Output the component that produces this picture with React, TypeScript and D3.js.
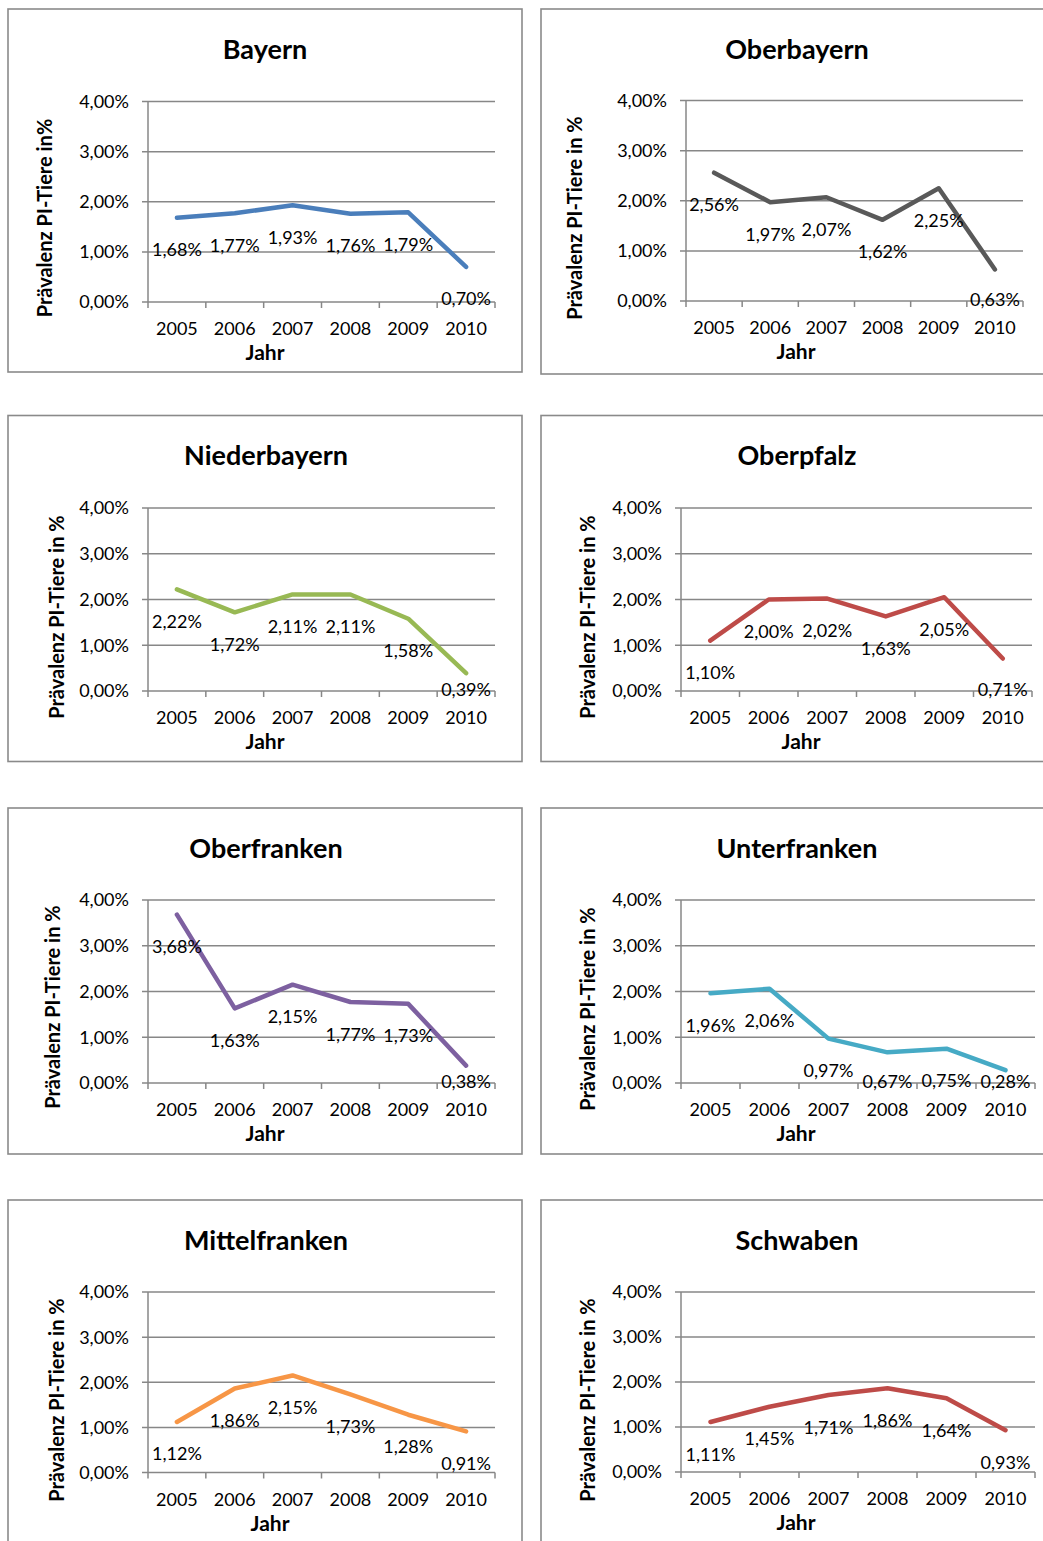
import React from "react";
import * as d3 from "d3";

// Survey years (x categories)
const years = ["2005", "2006", "2007", "2008", "2009", "2010"];
// Y axis ticks in percent
const yTicks = [0, 1, 2, 3, 4];

// Prevalence of PI animals per region, percent
const bayern = [1.68, 1.77, 1.93, 1.76, 1.79, 0.7];
const oberbayern = [2.56, 1.97, 2.07, 1.62, 2.25, 0.63];
const niederbayern = [2.22, 1.72, 2.11, 2.11, 1.58, 0.39];
const oberpfalz = [1.1, 2.0, 2.02, 1.63, 2.05, 0.71];
const oberfranken = [3.68, 1.63, 2.15, 1.77, 1.73, 0.38];
const unterfranken = [1.96, 2.06, 0.97, 0.67, 0.75, 0.28];
const mittelfranken = [1.12, 1.86, 2.15, 1.73, 1.28, 0.91];
const schwaben = [1.11, 1.45, 1.71, 1.86, 1.64, 0.93];

const titles = [
  "Bayern", "Oberbayern", "Niederbayern", "Oberpfalz",
  "Oberfranken", "Unterfranken", "Mittelfranken", "Schwaben",
];
const seriesList = [
  bayern, oberbayern, niederbayern, oberpfalz,
  oberfranken, unterfranken, mittelfranken, schwaben,
];
const yLabels = [
  "Prävalenz PI-Tiere in%", "Prävalenz PI-Tiere in %", "Prävalenz PI-Tiere in %",
  "Prävalenz PI-Tiere in %", "Prävalenz PI-Tiere in %", "Prävalenz PI-Tiere in %",
  "Prävalenz PI-Tiere in %", "Prävalenz PI-Tiere in %",
];
const xTitle = "Jahr";

// Line colours per panel
const colors = [
  "#4a7ebb", "#595959", "#98b954", "#be4b48",
  "#7d60a0", "#46aac5", "#f79646", "#be4b48",
];

// Panel geometry: frame box, plot area, title / axis title positions
const layouts = [
  { box: [8, 9, 522, 372], plot: [148, 495, 101.5, 302], tx: 265, ty: 59, ylx: 52, yly: 218, jx: 265 },
  { box: [541, 9, 1050, 374], plot: [686, 1023, 100.5, 301], tx: 797, ty: 59, ylx: 582, yly: 218, jx: 796 },
  { box: [8, 415.5, 522, 761.5], plot: [148, 495, 508, 691], tx: 266, ty: 465, ylx: 64, yly: 617, jx: 265 },
  { box: [541, 415.5, 1050, 761.5], plot: [681, 1032, 508, 691], tx: 797, ty: 465, ylx: 595, yly: 617, jx: 801 },
  { box: [8, 808, 522, 1154], plot: [148, 495, 900, 1083], tx: 266, ty: 858, ylx: 60, yly: 1007, jx: 265 },
  { box: [541, 808, 1050, 1154], plot: [681, 1035, 900, 1083], tx: 797, ty: 858, ylx: 595, yly: 1009, jx: 796 },
  { box: [8, 1200, 522, 1570], plot: [148, 495, 1292, 1472.5], tx: 266, ty: 1250, ylx: 64, yly: 1400, jx: 270 },
  { box: [541, 1200, 1050, 1570], plot: [681, 1035, 1292, 1472], tx: 797, ty: 1250, ylx: 595, yly: 1400, jx: 796 },
];

const FONT = "Lato, 'Open Sans', sans-serif";
const GRID = "#878787";
const fmtPct = (v: number) => `${v.toFixed(2).replace(".", ",")}%`;

function Panel({ idx }: { idx: number }) {
  const L = layouts[idx];
  const values = seriesList[idx];
  const [x0, x1, yTop, yBottom] = L.plot;
  const x = d3.scaleBand<string>().domain(years).range([x0, x1]).padding(0);
  const y = d3.scaleLinear().domain([0, 4]).range([yBottom, yTop]);
  const cx = (yr: string) => (x(yr) as number) + x.bandwidth() / 2;
  const line = d3
    .line<number>()
    .x((_, i) => cx(years[i]))
    .y((d) => y(d));
  const [bx0, by0, bx1, by1] = L.box;
  const boundaries = years.map((yr) => x(yr) as number).concat([x1]);
  // value labels sit below their point but stay inside the plot area
  const labelY = (v: number) => Math.min(y(v) + 38.5, yBottom + 5);

  return (
    <g>
      <rect x={bx0} y={by0} width={bx1 - bx0} height={by1 - by0} fill="#fff" stroke="#8a8a8a" strokeWidth={1.6} />
      <text x={L.tx} y={L.ty} textAnchor="middle" fontFamily={FONT} fontWeight={700} fontSize={27} fill="#000">
        {titles[idx]}
      </text>
      {/* horizontal gridlines incl. y tick marks */}
      {yTicks.map((t) => (
        <line key={"g" + t} x1={x0 - 6} x2={x1} y1={y(t)} y2={y(t)} stroke={GRID} strokeWidth={1.5} />
      ))}
      {/* y axis line */}
      <line x1={x0} x2={x0} y1={yTop} y2={yBottom} stroke={GRID} strokeWidth={1.5} />
      {/* x tick marks at category boundaries */}
      {boundaries.map((bx, i) => (
        <line key={"xt" + i} x1={bx} x2={bx} y1={yBottom} y2={yBottom + 6} stroke={GRID} strokeWidth={1.5} />
      ))}
      {yTicks.map((t) => (
        <text key={"yl" + t} x={x0 - 19} y={y(t)} dy="0.36em" textAnchor="end" fontFamily={FONT} fontSize={18} fill="#000">
          {fmtPct(t)}
        </text>
      ))}
      {years.map((yr) => (
        <text key={"xl" + yr} x={cx(yr)} y={yBottom + 33} textAnchor="middle" fontFamily={FONT} fontSize={18} fill="#000">
          {yr}
        </text>
      ))}
      <text x={L.jx} y={yBottom + 58} textAnchor="middle" fontFamily={FONT} fontWeight={700} fontSize={21} fill="#000">
        {xTitle}
      </text>
      <text
        transform={`translate(${L.ylx},${L.yly}) rotate(-90)`}
        textAnchor="middle"
        fontFamily={FONT}
        fontWeight={700}
        fontSize={20}
        fill="#000"
      >
        {yLabels[idx]}
      </text>
      <path d={line(values) as string} fill="none" stroke={colors[idx]} strokeWidth={4.5} strokeLinejoin="round" strokeLinecap="round" />
      {values.map((v, i) => (
        <text key={"dl" + i} x={cx(years[i])} y={labelY(v)} textAnchor="middle" fontFamily={FONT} fontSize={18} fill="#000">
          {fmtPct(v)}
        </text>
      ))}
    </g>
  );
}

export default function App() {
  return (
    <svg
      width={1043}
      height={1541}
      viewBox="0 0 1043 1541"
      style={{ position: "absolute", left: 0, top: 0, background: "#fff", overflow: "hidden" }}
    >
      <rect x={0} y={0} width={1043} height={1541} fill="#fff" />
      {titles.map((_, i) => (
        <Panel key={i} idx={i} />
      ))}
    </svg>
  );
}
